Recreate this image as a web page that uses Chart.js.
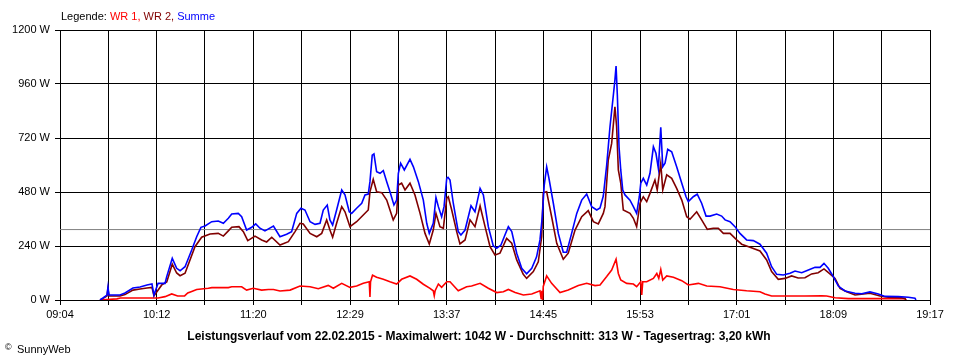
<!DOCTYPE html>
<html>
<head>
<meta charset="utf-8">
<title>Leistungsverlauf 22.02.2015</title>
<script src="https://cdn.jsdelivr.net/npm/chart.js@4/dist/chart.umd.min.js"></script>
<style>
  html, body { margin: 0; padding: 0; background: #fff; }
  canvas { display: block; }
</style>
</head>
<body>
<canvas id="powerChart" width="960" height="360"></canvas>
<script>
// times are minutes after midnight, values in watts
var tickLabels = ['09:04', '10:12', '11:20', '12:29', '13:37', '14:45', '15:53', '17:01', '18:09', '19:17'];
var startMinute = 544;   // 09:04
var endMinute = 1157;    // 19:17
var averageWatts = 313;

var sumTimes = [572.2, 574.3, 577.1, 577.8, 578.5, 586.3, 589.8, 595.4, 600.4, 605.3, 608.8, 610.2, 613.1, 618, 619.2, 623.1, 626.2, 628.6, 632.1, 636.8,
    640.3, 643.3, 646.2, 650.9, 655.5, 659.1, 662.6, 665, 669.6, 672, 675.5, 679.1, 681.9, 684.9, 688.4, 694.4, 699, 703.7, 707.2, 710.8,
    713.8, 716.6, 720.2, 723.7, 727.2, 729.5, 732.3, 734.2, 736.1, 738.9, 742.5, 744.8, 747.8, 749.5, 753, 756.6, 758.9, 761.2, 762.4, 764,
    765.2, 767.1, 769.5, 771.8, 774.2, 776.5, 779.3, 781.2, 782.4, 784, 786.6, 790.6, 793, 796.5, 800, 802.4, 804.2, 807, 808.9, 810.6,
    812.9, 814.6, 816.5, 817.4, 818.8, 821.1, 824.6, 826.5, 829.4, 833.6, 836.4, 840, 842.3, 845.8, 849.3, 851.7, 854.7, 857.5, 859.9, 862.3,
    865.8, 869.3, 872.8, 876.4, 879.8, 882.2, 883.8, 885.2, 886.9, 888.5, 891.6, 895.1, 898.6, 901, 904.5, 908.1, 911.6, 915.1, 918.6, 922.2,
    924.5, 926.8, 929.2, 931.5, 933.9, 935, 935.8, 936.7, 937.9, 939.1, 940.5, 942.1, 945.6, 948, 950.3, 952.2, 953.2, 955, 957.4, 959.7,
    962.1, 963.9, 965.6, 967.3, 968.7, 970.3, 972.2, 975, 978.5, 982.1, 985.1, 986.7, 990.2, 993, 996.1, 999.2, 1002, 1006.7, 1010.2, 1012.6,
    1016.1, 1019.6, 1023.1, 1027.8, 1032.5, 1037.2, 1041.9, 1045.4, 1049, 1053.6, 1058.4, 1061.9, 1066.6, 1071.3, 1076, 1079.5, 1082.3, 1085.3, 1088.9, 1092.4,
    1097.1, 1104.2, 1108.9, 1114.7, 1120.6, 1125.3, 1134.7, 1141.7, 1146.4, 1147.1];
var sumWatts = [0, 9, 22, 58, 22, 22, 31, 53, 58, 67, 71, 22, 74, 74, 104, 185, 141, 130, 148, 222,
    281, 323, 329, 348, 351, 341, 363, 382, 385, 370, 311, 323, 338, 319, 307, 329, 281, 292, 304, 385,
    408, 400, 348, 336, 341, 400, 422, 356, 333, 400, 489, 467, 392, 385, 408, 430, 467, 471, 526, 644,
    649, 570, 563, 575, 526, 481, 422, 444, 563, 608, 578, 625, 592, 526, 444, 341, 296, 341, 456, 415,
    370, 415, 541, 545, 533, 430, 304, 289, 311, 419, 392, 496, 467, 326, 240, 230, 244, 289, 326, 304,
    208, 141, 116, 141, 192, 267, 370, 511, 592, 541, 430, 296, 212, 212, 296, 385, 444, 471, 415, 400,
    409, 462, 600, 769, 911, 978, 1040, 911, 680, 578, 489, 467, 444, 415, 385, 459, 519, 541, 511, 563,
    681, 652, 585, 768, 592, 608, 670, 659, 592, 519, 459, 437, 459, 470, 430, 373, 373, 382, 373, 356,
    348, 326, 296, 267, 264, 248, 208, 148, 114, 111, 119, 129, 121, 133, 145, 145, 163, 141, 104, 62,
    40, 30, 28, 36, 27, 16, 15, 12, 8, 0];

var wr2Times = [572.2, 574.3, 577.1, 577.8, 578.5, 586.3, 589.8, 595.4, 600.4, 605.3, 608.8, 610.2, 615.7, 619.2, 623.1, 626.2, 628.6, 632.1, 639.1, 643.8,
    649.7, 655.5, 659.1, 662.6, 665, 670.1, 673.2, 676.3, 681.4, 686.1, 689.6, 693.2, 699, 704.9, 709.6, 713.1, 715.4, 720.2, 724.9, 728.4,
    731.9, 734.2, 736.1, 738.9, 742.5, 744.8, 748.3, 753, 757.7, 761.2, 762.4, 764.7, 767.1, 770.7, 774.2, 776.5, 778.8, 781.2, 782.4, 784.7,
    787.1, 790.6, 794.1, 797.7, 801.2, 804.2, 807, 808.9, 811.7, 814.1, 816.5, 817.6, 820, 823.5, 825.8, 829.4, 832.9, 836.4, 840, 843.5,
    847, 850.5, 854, 858.7, 862.3, 865.8, 870.4, 872.8, 877.5, 881, 883.4, 884.5, 886.9, 890.4, 894, 898.6, 902.1, 906.9, 911.6, 916.2,
    919.8, 923.3, 926.8, 928, 930.3, 932.7, 935, 936.2, 937.4, 939.1, 940.9, 945.6, 948, 950.3, 952.7, 955, 957.4, 959.7, 963.2, 964.8,
    967.3, 968.7, 971.5, 975, 978.5, 982.1, 985.6, 987.9, 992.6, 996.1, 1000.1, 1004.3, 1007.8, 1011.4, 1016.1, 1020.8, 1024.3, 1030.2, 1037.2, 1041.9,
    1045.4, 1050.1, 1054.8, 1059.5, 1064.1, 1068.9, 1073.6, 1078.2, 1082.3, 1086.5, 1090.1, 1093.6, 1098.3, 1104.2, 1114.7, 1121.8, 1127.6, 1137, 1139.4, 1140.1];
var wr2Watts = [0, 7, 18, 49, 18, 18, 24, 44, 49, 53, 56, 18, 67, 80, 159, 120, 108, 119, 237, 279,
    293, 296, 284, 307, 323, 326, 304, 264, 284, 267, 258, 279, 244, 259, 304, 341, 338, 296, 281, 296,
    356, 311, 279, 341, 415, 392, 326, 348, 378, 400, 481, 536, 481, 477, 444, 400, 356, 385, 511, 519,
    489, 519, 467, 385, 296, 249, 311, 385, 326, 319, 452, 459, 400, 304, 249, 267, 356, 326, 418, 326,
    237, 200, 208, 274, 252, 178, 114, 96, 126, 170, 281, 477, 481, 370, 252, 181, 208, 311, 370, 397,
    348, 338, 385, 415, 622, 696, 859, 770, 578, 519, 400, 385, 363, 326, 430, 459, 437, 474, 533, 489,
    608, 489, 556, 541, 496, 444, 370, 359, 392, 356, 314, 319, 319, 296, 296, 267, 248, 234, 218, 178,
    126, 92, 96, 107, 98, 99, 116, 121, 138, 116, 96, 52, 37, 22, 30, 18, 12, 10, 6, 0];

var wr1Times = [572.2, 584.1, 586.5, 613.1, 618, 622.7, 626.9, 631.8, 634, 636.8, 640.3, 648.5, 651, 662.6, 665, 672, 675.5, 680.2, 686.1, 690.8,
    694.4, 699, 706.1, 713.1, 720.2, 726, 733, 736.6, 742.5, 748.3, 753, 757.7, 761.9, 762.4, 762.8, 764.2, 767.1, 771.8, 776.5, 781.2,
    784.7, 790.6, 795.3, 800, 804.7, 807, 807.7, 808.3, 810.6, 812.9, 816.5, 818.8, 824.6, 830.5, 834, 840, 845.8, 851.7, 856.4, 859.9,
    864.7, 870.5, 876.4, 882.2, 883, 883.5, 884, 884.5, 886.9, 890.4, 896.3, 902.1, 909.2, 915.1, 921, 924.5, 929.2, 932.7, 935.8, 937.4,
    939.1, 943.3, 948, 950.3, 953.2, 953.9, 954.6, 957.4, 962.1, 964.5, 965.9, 967.3, 968.7, 971.5, 976.2, 982.1, 986.7, 993.8, 999.7, 1009,
    1018.4, 1027.8, 1037.2, 1040.7, 1045.4, 1068.9, 1080.7, 1084.2, 1090.1, 1099.5, 1139.4, 1140.1];
var wr1Watts = [0, 5, 9, 9, 15, 27, 18, 18, 31, 38, 47, 52, 55, 55, 59, 59, 44, 52, 44, 47,
    47, 40, 44, 62, 59, 50, 65, 52, 74, 56, 62, 74, 81, 13, 81, 110, 101, 92, 81, 71,
    92, 107, 92, 70, 52, 41, 19, 41, 71, 56, 81, 81, 41, 59, 62, 74, 52, 33, 37, 47,
    33, 22, 27, 41, 7, 41, 0, 60, 107, 74, 33, 44, 64, 74, 64, 67, 104, 133, 181, 118,
    89, 74, 71, 59, 81, 22, 81, 81, 96, 118, 96, 136, 89, 107, 101, 86, 67, 74, 62, 59,
    47, 41, 37, 27, 18, 18, 19, 18, 10, 6, 6, 0];

function toPoints(times, watts) {
    return times.map(function (t, i) { return { x: t, y: watts[i] }; });
}

var textPlugin = {
    id: 'sunnyText',
    afterDraw: function (chart) {
        var ctx = chart.ctx;
        ctx.save();
        ctx.textBaseline = 'middle';
        ctx.textAlign = 'left';
        ctx.font = '11px "Liberation Sans", Arial, sans-serif';
        var parts = [['Legende: ', '#000000'], ['WR 1, ', '#ff0000'], ['WR 2, ', '#800000'], ['Summe', '#0000ff']];
        var x = 61;
        parts.forEach(function (p) {
            ctx.fillStyle = p[1];
            ctx.fillText(p[0], x, 16.5);
            x += ctx.measureText(p[0]).width;
        });

        ctx.fillStyle = '#000000';
        ctx.font = 'bold 12px "Liberation Sans", Arial, sans-serif';
        ctx.textAlign = 'center';
        ctx.fillText('Leistungsverlauf vom 22.02.2015 - Maximalwert: 1042 W - Durchschnitt: 313 W - Tagesertrag: 3,20 kWh', 479, 336.5);

        ctx.textAlign = 'left';
        ctx.font = '9px "Liberation Sans", Arial, sans-serif';
        ctx.fillText('\u00a9', 5, 348);
        ctx.font = '11px "Liberation Sans", Arial, sans-serif';
        ctx.fillText('SunnyWeb', 17, 349.5);
        ctx.restore();
    }
};

document.addEventListener('DOMContentLoaded', function () {
    var ctx = document.getElementById('powerChart').getContext('2d');
    var tickStep = (endMinute - startMinute) / ((tickLabels.length - 1) * 2);

    var powerChart = new Chart(ctx, {
        type: 'line',
        data: {
            datasets: [{
                label: 'Summe',
                data: toPoints(sumTimes, sumWatts),
                borderColor: '#0000ff',
                borderWidth: 1.6,
                order: 0
            }, {
                label: 'WR 2',
                data: toPoints(wr2Times, wr2Watts),
                borderColor: '#800000',
                borderWidth: 1.6,
                order: 1
            }, {
                label: 'WR 1',
                data: toPoints(wr1Times, wr1Watts),
                borderColor: '#ff0000',
                borderWidth: 1.6,
                order: 2
            }, {
                label: 'Durchschnitt',
                data: [{ x: startMinute, y: averageWatts }, { x: endMinute, y: averageWatts }],
                borderColor: '#808080',
                borderWidth: 1,
                order: 3
            }]
        },
        options: {
            responsive: false,
            animation: false,
            events: [],
            layout: {
                padding: { top: 30, right: 30, bottom: 0, left: 0 }
            },
            elements: {
                point: { radius: 0 },
                line: { tension: 0, fill: false }
            },
            scales: {
                x: {
                    type: 'linear',
                    min: startMinute,
                    max: endMinute,
                    afterBuildTicks: function (scale) {
                        var ticks = [];
                        for (var i = 0; i <= (tickLabels.length - 1) * 2; i++) {
                            ticks.push({ value: startMinute + i * tickStep });
                        }
                        scale.ticks = ticks;
                    },
                    afterFit: function (scale) {
                        scale.height = 60;
                    },
                    grid: {
                        color: '#000000',
                        lineWidth: 1,
                        tickLength: 5,
                        tickColor: '#000000'
                    },
                    border: { color: '#000000' },
                    ticks: {
                        autoSkip: false,
                        maxRotation: 0,
                        minRotation: 0,
                        padding: 3,
                        color: '#000000',
                        font: { family: '"Liberation Sans", Arial, sans-serif', size: 11 },
                        callback: function (value, index) {
                            return index % 2 === 0 ? tickLabels[index / 2] : '';
                        }
                    }
                },
                y: {
                    min: 0,
                    max: 1200,
                    afterFit: function (scale) {
                        scale.width = 60;
                    },
                    grid: {
                        color: '#000000',
                        lineWidth: 1,
                        tickLength: 5,
                        tickColor: '#000000'
                    },
                    border: { color: '#000000' },
                    ticks: {
                        stepSize: 240,
                        padding: 5,
                        color: '#000000',
                        font: { family: '"Liberation Sans", Arial, sans-serif', size: 11 },
                        callback: function (value) {
                            return value + ' W';
                        }
                    }
                }
            },
            plugins: {
                legend: { display: false },
                title: { display: false },
                tooltip: { enabled: false }
            }
        },
        plugins: [textPlugin]
    });
});
</script>
</body>
</html>
